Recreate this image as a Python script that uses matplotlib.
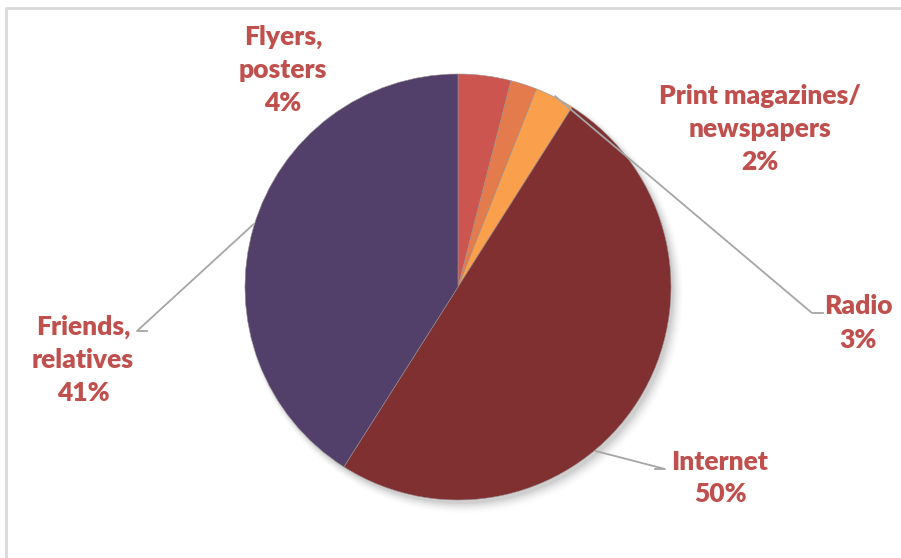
import numpy as np
import matplotlib
matplotlib.use("Agg")
import matplotlib.pyplot as plt
from matplotlib.patches import Circle

# How respondents heard about the event (share of answers, %)
labels = ["Flyers,\nposters", "Print magazines/\nnewspapers", "Radio", "Internet", "Friends,\nrelatives"]
shares = [4, 2, 3, 50, 41]
colors = ["#CD5550", "#E47B4C", "#FAA04C", "#803030", "#52406A"]

W, H = 901, 558
CX, CY, R = 458, H - 287, 213

# label block centres (x, y from top); leader: start, knee, angle on the rim
label_pos = [(283, 70), (760, 129), (858, 323), (720, 478), (83, 360)]
leader_from = [None, None, (812, 313), (665, 469), (137, 331)]
leader_knee = [None, None, (823, 313), (655, 469), (147, 331)]
leader_ang = [None, None, 27, 140, 287]

plt.rcParams["font.family"] = ["Lato", "DejaVu Sans"]

fig = plt.figure(figsize=(W / 100, H / 100), dpi=100)
ax = fig.add_axes([0, 0, 1, 1])

# chart frame (top and left edge visible)
ax.plot([6, 6, W], [0, H - 8, H - 8], color="#D9D9D9", lw=2, solid_capstyle="butt")

# soft drop shadow under the pie
for i, a in enumerate(np.linspace(0.05, 0.012, 6)):
    ax.add_patch(Circle((CX + 3 + i * 0.6, CY - 4 - i * 0.6), R + i * 1.2,
                        color="black", alpha=a, lw=0, zorder=1))

ax.pie(shares, colors=colors, startangle=90, counterclock=False,
       center=(CX, CY), radius=R, frame=True,
       wedgeprops=dict(edgecolor="#9A8E8E", linewidth=0.4, zorder=2))
ax.set_xlim(0, W)
ax.set_ylim(0, H)
ax.set_aspect("equal")
ax.axis("off")

for i, lab in enumerate(labels):
    x, y = label_pos[i]
    ax.text(x, H - y, f"{lab}\n{shares[i]}%", ha="center", va="center",
            fontsize=19, fontweight="heavy", color="#C0504D", linespacing=1.45,
            zorder=5)
    if leader_from[i] is None:
        continue
    ang = np.deg2rad(90 - leader_ang[i])
    tx, ty = CX + 1.005 * R * np.cos(ang), CY + 1.005 * R * np.sin(ang)
    fx, fy = leader_from[i]
    kx, ky = leader_knee[i]
    ax.plot([kx, fx, tx], [H - ky, H - fy, ty], color="#A6A6A6", lw=1.3, zorder=4)

fig.savefig("out.png", dpi=100)
